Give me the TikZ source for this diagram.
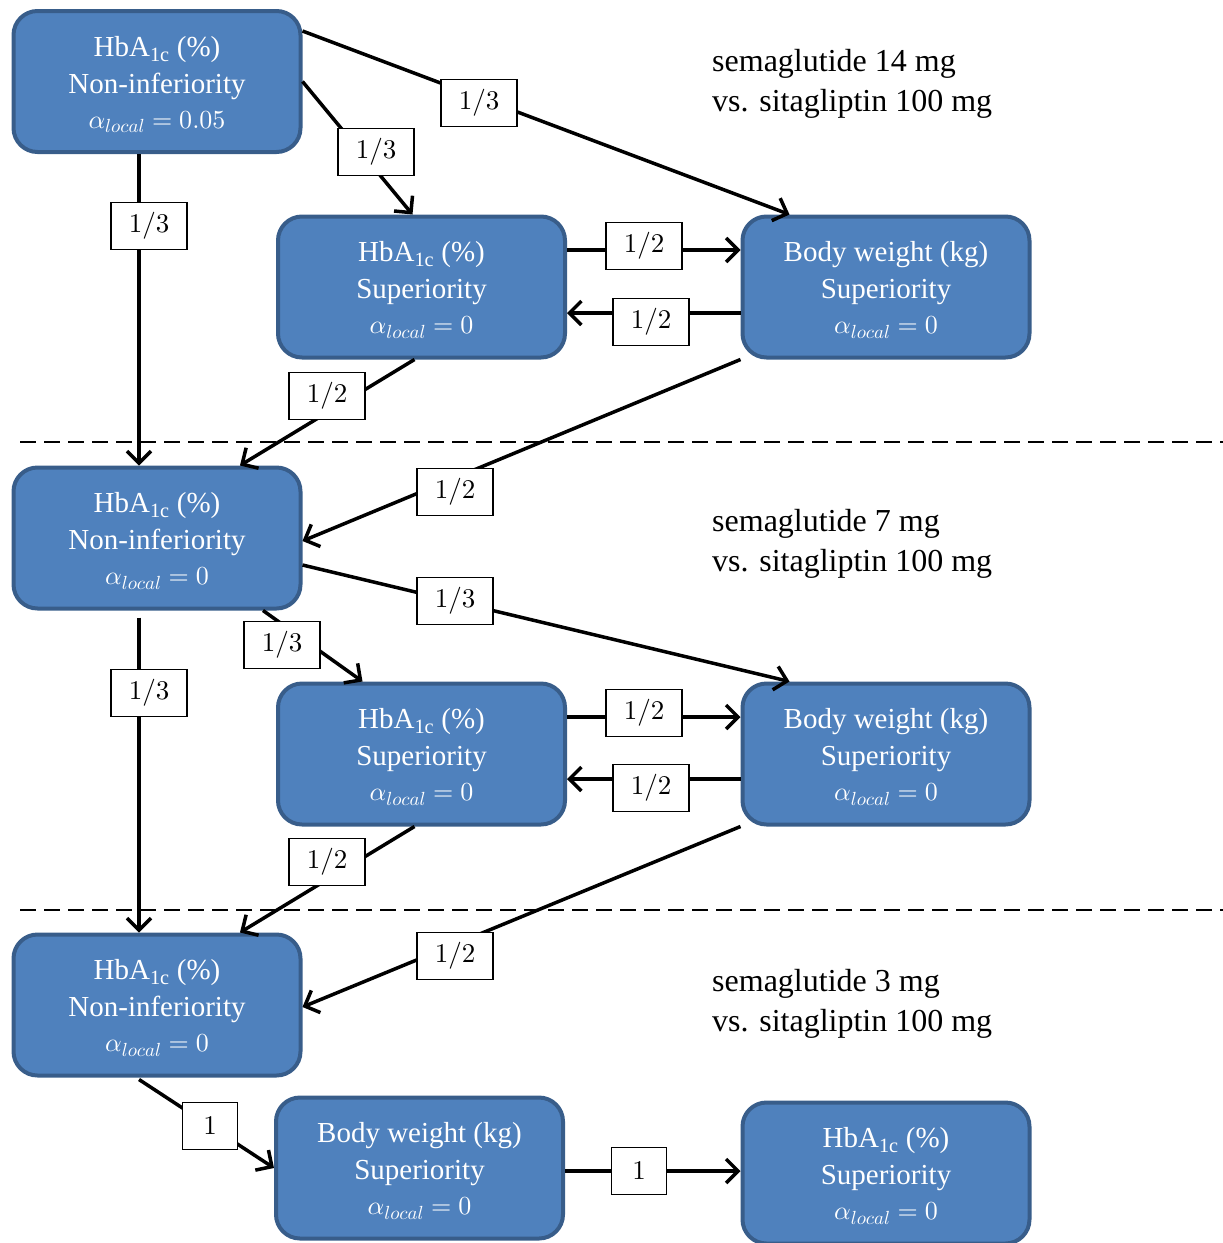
\documentclass[tikz,border=0pt]{standalone}
\usepackage{fontspec}
\setmainfont{Liberation Serif}
% scalable Computer Modern math fonts for the large sizes used below
\DeclareFontShape{OML}{cmm}{m}{it}{<-> cmmi10}{}
\DeclareFontShape{OT1}{cmr}{m}{n}{<-> cmr10}{}
\DeclareMathSizes{26}{26}{19}{14}
\DeclareMathSizes{27}{27}{19}{14}
\usetikzlibrary{arrows.meta,calc}
\definecolor{boxfill}{HTML}{4F81BD}
\definecolor{boxline}{HTML}{385D8A}
\tikzset{
  testbox/.style={draw=boxline, fill=boxfill, line width=4pt, rounded corners=24pt,
    minimum width=287pt, minimum height=141pt, text=white, align=center,
    font=\fontsize{29}{37}\selectfont, inner sep=0pt},
  weight/.style={draw=black, fill=white, line width=1.2pt, minimum width=76pt,
    minimum height=47pt, inner sep=0pt, font=\fontsize{27}{30}\selectfont},
  single/.style={weight, minimum width=55pt},
  flow/.style={line width=3.5pt, -{Straight Barb[length=12pt,width=24pt]}},
  divider/.style={line width=2pt, dash pattern=on 16pt off 8pt},
  caption/.style={anchor=west, align=left, font=\fontsize{32}{40}\selectfont, inner sep=0pt},
}
% first line of a box, with a strut that lowers the text block slightly
\newcommand{\firstline}[1]{\rule{0pt}{26pt}#1}
\newcommand{\hba}{HbA\textsubscript{1c} (\%)}
\newcommand{\alphaline}[1]{\\[-2pt]{\fontsize{26}{30}\selectfont$\alpha_{local}=#1$}}
\begin{document}
\begin{tikzpicture}[x=1pt, y=-1pt]
\useasboundingbox (0,0) rectangle (1223,1243);
\clip (0,0) rectangle (1223,1243);

% dose-level separators
\draw[divider] (20,442) -- (1223,442);
\draw[divider] (20,910) -- (1223,910);

% hypotheses
\node[testbox] (A) at (157,81.5)   {\firstline{\hba}\\Non-inferiority\alphaline{0.05}};
\node[testbox] (B) at (421.5,287)  {\firstline{\hba}\\Superiority\alphaline{0}};
\node[testbox] (C) at (886,287)    {\firstline{Body weight (kg)}\\Superiority\alphaline{0}};
\node[testbox] (D) at (157,538)    {\firstline{\hba}\\Non-inferiority\alphaline{0}};
\node[testbox] (E) at (421.5,754)  {\firstline{\hba}\\Superiority\alphaline{0}};
\node[testbox] (F) at (886,754)    {\firstline{Body weight (kg)}\\Superiority\alphaline{0}};
\node[testbox] (G) at (157,1005)   {\firstline{\hba}\\Non-inferiority\alphaline{0}};
\node[testbox] (H) at (419.5,1168) {\firstline{Body weight (kg)}\\Superiority\alphaline{0}};
\node[testbox] (I) at (886,1173)   {\firstline{\hba}\\Superiority\alphaline{0}};

% dose captions
\node[caption] (cap14) at (712,84)   {semaglutide 14 mg\\vs. sitagliptin 100 mg};
\node[caption] (cap7)  at (712,544)  {semaglutide 7 mg\\vs. sitagliptin 100 mg};
\node[caption] (cap3)  at (712,1004) {semaglutide 3 mg\\vs. sitagliptin 100 mg};

% 14 mg transitions
\draw[flow] ($(A.north east)+(0,22)$) -- ($(C.north west)+(49,0)$);
\draw[flow] (A.east) -- ($(B.north)+(-9,0)$);
\draw[flow] ($(A.south)+(-18,0)$) -- ($(D.north)+(-18,0)$);
\draw[flow] ($(B.east)+(0,-37)$) -- ($(C.west)+(0,-37)$);
\draw[flow] ($(C.west)+(0,26)$) -- ($(B.east)+(0,26)$);
\draw[flow] ($(B.south)+(-7,0)$) -- ($(D.north)+(83,0)$);
\draw[flow] (C.south west) -- ($(D.east)+(0,3)$);

% 7 mg transitions
\draw[flow] ($(D.east)+(0,27)$) -- ($(F.north west)+(49,0)$);
\draw[flow] ($(D.south)+(106,0)$) -- ($(E.north)+(-59,0)$);
\draw[flow] ($(D.south)+(-18,7)$) -- ($(G.north)+(-18,0)$);
\draw[flow] ($(E.east)+(0,-37)$) -- ($(F.west)+(0,-37)$);
\draw[flow] ($(F.west)+(0,25)$) -- ($(E.east)+(0,25)$);
\draw[flow] ($(E.south)+(-7,0)$) -- ($(G.north)+(83,0)$);
\draw[flow] (F.south west) -- ($(G.east)+(0,2)$);

% 3 mg transitions
\draw[flow] ($(G.south)+(-18,2)$) -- (H.west);
\draw[flow] ($(H.east)+(0,3)$) -- ($(I.west)+(0,-2)$);

% transition weights
\node[weight] (w1)  at (479,103)  {$1/3$};
\node[weight] (w2)  at (376,152)  {$1/3$};
\node[weight] (w3)  at (149,226)  {$1/3$};
\node[weight] (w4)  at (644,246)  {$1/2$};
\node[weight] (w5)  at (651,322)  {$1/2$};
\node[weight] (w6)  at (327,396)  {$1/2$};
\node[weight] (w7)  at (455,492)  {$1/2$};
\node[weight] (w8)  at (455,601)  {$1/3$};
\node[weight] (w9)  at (282,645)  {$1/3$};
\node[weight] (w10) at (149,693)  {$1/3$};
\node[weight] (w11) at (644,713)  {$1/2$};
\node[weight] (w12) at (651,788)  {$1/2$};
\node[weight] (w13) at (327,862)  {$1/2$};
\node[weight] (w14) at (455,956)  {$1/2$};
\node[single] (w15) at (210,1126) {$1$};
\node[single] (w16) at (639,1171) {$1$};
\end{tikzpicture}
\end{document}
